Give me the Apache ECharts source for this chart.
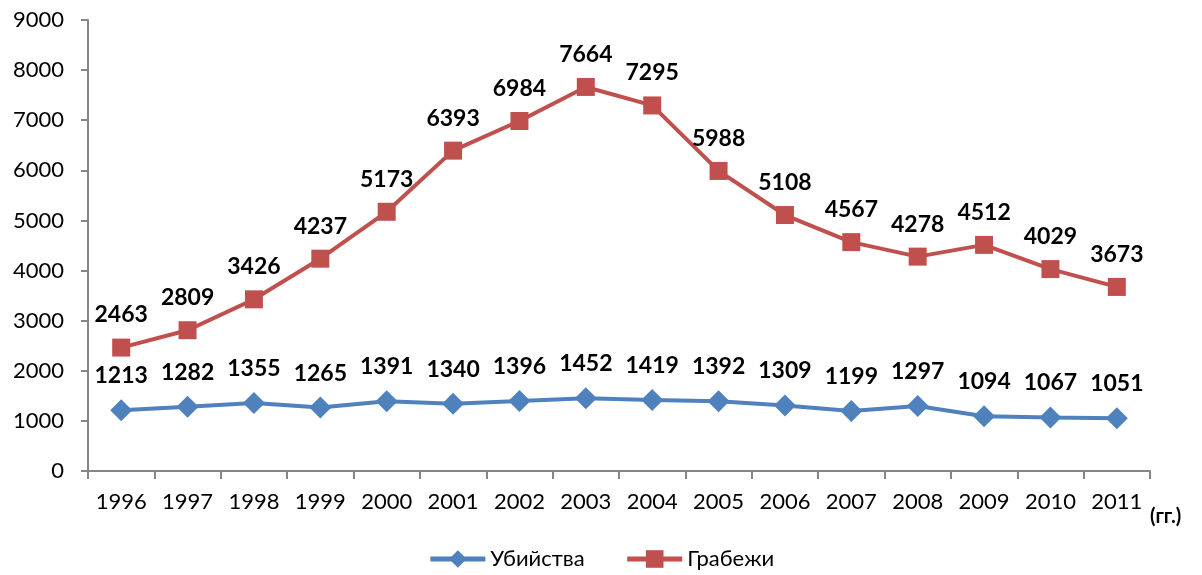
<!DOCTYPE html>
<html>
<head>
<meta charset="utf-8">
<script src="https://cdn.jsdelivr.net/npm/echarts@6/dist/echarts.min.js"></script>
<style>
	html, body { margin: 0; padding: 0; background: #fff; }
	#chart { width: 1202px; height: 575px; }
</style>
</head>
<body>
<div id="chart"></div>
<script>
var years = ['1996','1997','1998','1999','2000','2001','2002','2003','2004','2005','2006','2007','2008','2009','2010','2011'];
var murders = [1213, 1282, 1355, 1265, 1391, 1340, 1396, 1452, 1419, 1392, 1309, 1199, 1297, 1094, 1067, 1051];
var robberies = [2463, 2809, 3426, 4237, 5173, 6393, 6984, 7664, 7295, 5988, 5108, 4567, 4278, 4512, 4029, 3673];

var font = 'Lato, "Open Sans", sans-serif';
var axisColor = '#868686';

var chart = echarts.init(document.getElementById('chart'));

var labelStyle = {
	show: true,
	position: 'top',
	distance: 12,
	color: '#000',
	fontSize: 23,
	fontWeight: 'bold',
	fontFamily: font
};

chart.setOption({
	animation: false,
	color: ['#4F81BD', '#C0504D'],
	grid: { left: 88, right: 52, top: 20, bottom: 104 },
	legend: {
		bottom: 0,
		left: 'center',
		itemWidth: 55,
		itemHeight: 22,
		itemGap: 40,
		lineStyle: { width: 5 },
		textStyle: { fontSize: 22, fontFamily: font, color: '#000' },
		data: ['Убийства', 'Грабежи']
	},
	xAxis: {
		type: 'category',
		data: years,
		boundaryGap: true,
		axisLine: { lineStyle: { color: axisColor, width: 2 } },
		axisTick: { show: true, length: 8, lineStyle: { color: axisColor, width: 2 } },
		axisLabel: { color: '#000', fontSize: 22, fontFamily: font, margin: 20 }
	},
	yAxis: {
		type: 'value',
		min: 0,
		max: 9000,
		interval: 1000,
		splitLine: { show: false },
		axisLine: { show: true, lineStyle: { color: axisColor, width: 2 } },
		axisTick: { show: true, inside: false, length: 7, lineStyle: { color: axisColor, width: 2 } },
		axisLabel: { color: '#000', fontSize: 22, fontFamily: font, margin: 24, formatter: function (v) { return String(v); } }
	},
	graphic: [{
		type: 'text',
		left: 1150,
		top: 507,
		style: { text: '(гг.)', fontSize: 20, fontWeight: 'bold', fontFamily: font, fill: '#000' }
	}],
	series: [
		{
			name: 'Убийства',
			type: 'line',
			data: murders,
			symbol: 'diamond',
			symbolSize: 22,
			lineStyle: { width: 4 },
			label: labelStyle
		},
		{
			name: 'Грабежи',
			type: 'line',
			data: robberies,
			symbol: 'rect',
			symbolSize: 18,
			lineStyle: { width: 4 },
			label: labelStyle
		}
	]
});
</script>
</body>
</html>
